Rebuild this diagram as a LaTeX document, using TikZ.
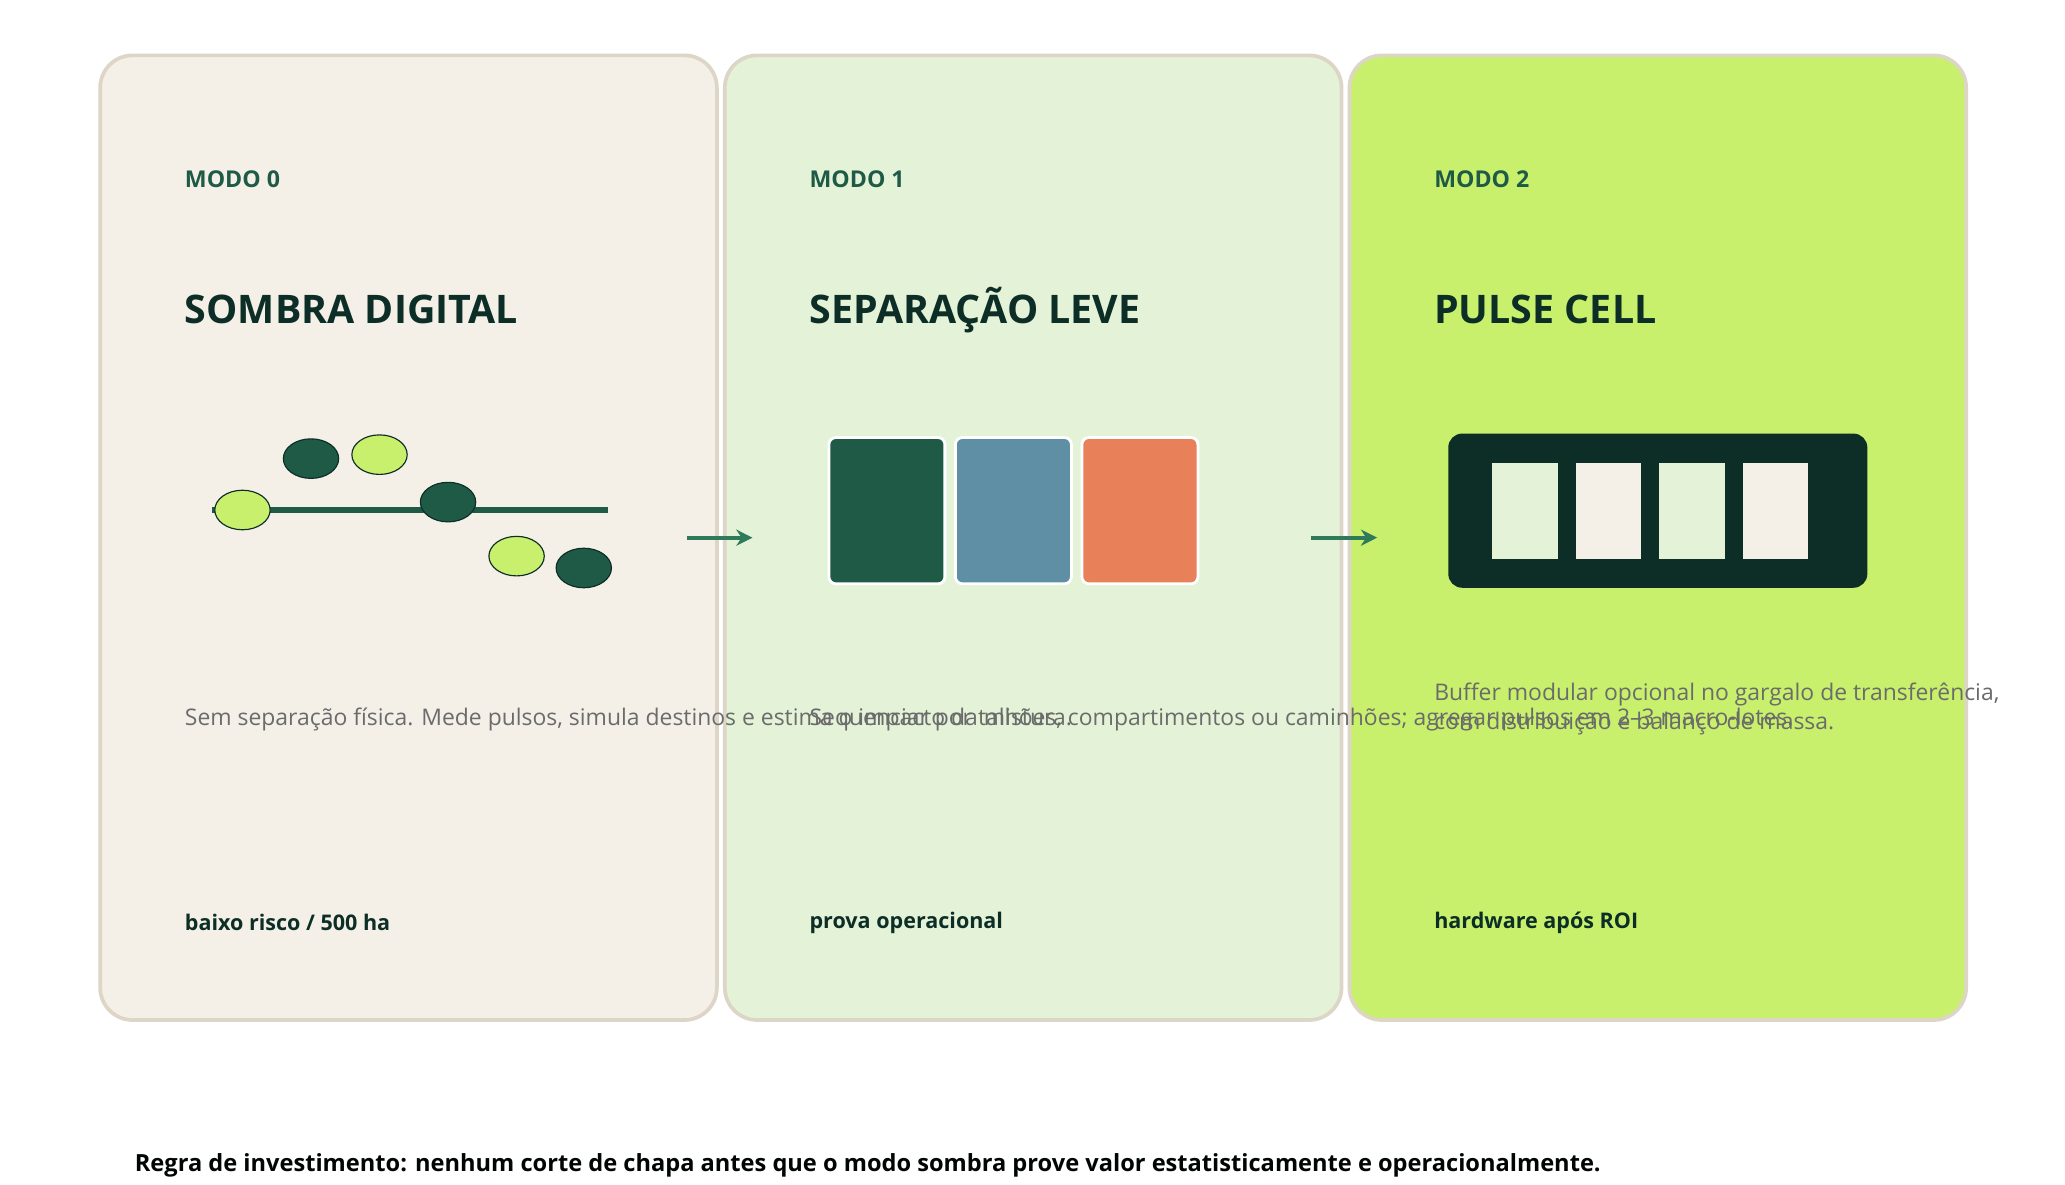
\documentclass[tikz,border=0pt]{standalone}
\usepackage{fontspec}
\setmainfont{Open Sans}
\usetikzlibrary{arrows.meta}
\definecolor{cardA}{HTML}{F4F0E8}
\definecolor{cardB}{HTML}{E4F3D8}
\definecolor{cardC}{HTML}{C8F06C}
\definecolor{edge}{HTML}{DDD5C5}
\definecolor{deep}{HTML}{1E5A46}
\definecolor{ink}{HTML}{0C2E26}
\definecolor{steel}{HTML}{5F8FA4}
\definecolor{coral}{HTML}{E8805A}
\definecolor{flow}{HTML}{2E7A5A}
\tikzset{
  card/.style={draw=edge,line width=1.6pt,rounded corners=14pt},
  mode/.style={anchor=west,inner sep=0pt,text=deep,font=\fontsize{10}{12}\selectfont\bfseries},
  title/.style={anchor=west,inner sep=0pt,text=ink,font=\fontsize{17}{20}\selectfont\bfseries},
  body/.style={anchor=west,inner sep=0pt,text=black!58,font=\fontsize{9.9}{12.4}\selectfont,align=left},
  foot/.style={anchor=west,inner sep=0pt,text=ink,font=\fontsize{9.3}{12}\selectfont\bfseries},
  pulse/.style={draw=ink,line width=0.5pt},
  flowarrow/.style={-{Stealth[length=7pt,width=7pt]},draw=flow,line width=1.8pt},
}
\begin{document}
\begin{tikzpicture}[x=0.02cm,y=-0.02cm]
    \useasboundingbox (0,0) rectangle (1567,898.5);

    % cards
    \draw[card,fill=cardA] (76,42) rectangle (544,774);
    \draw[card,fill=cardB] (550,42) rectangle (1018,774);
    \draw[card,fill=cardC] (1024,42) rectangle (1492,774);

    % modo 0
    \node[mode] (m0) at (140,136) {MODO 0};
    \node[title] (t0) at (140,235) {SOMBRA DIGITAL};
    \coordinate (l0) at (161,387);
    \coordinate (l1) at (461,387);
    \draw[deep,line width=2.4pt] (l0) -- (l1);
    \draw[pulse,fill=cardC] (184,387) ellipse (21 and 15);
    \draw[pulse,fill=deep] (236,348) ellipse (21 and 15);
    \draw[pulse,fill=cardC] (288,345) ellipse (21 and 15);
    \draw[pulse,fill=deep] (340,381) ellipse (21 and 15);
    \draw[pulse,fill=cardC] (392,422) ellipse (21 and 15);
    \draw[pulse,fill=deep] (443,431) ellipse (21 and 15);
    \node[body] (b0) at (140,546) {Sem separação física. Mede pulsos, simula destinos e estima o impacto da mistura.};
    \node[foot] (f0) at (140,700) {baixo risco / 500 ha};

    % modo 1
    \node[mode] (m1) at (614,136) {MODO 1};
    \node[title] (t1) at (614,235) {SEPARAÇÃO LEVE};
    \draw[draw=white,line width=1.2pt,rounded corners=3pt,fill=deep] (629,332) rectangle (717,443);
    \draw[draw=white,line width=1.2pt,rounded corners=3pt,fill=steel] (725,332) rectangle (813,443);
    \draw[draw=white,line width=1.2pt,rounded corners=3pt,fill=coral] (821,332) rectangle (909,443);
    \node[body] (b1) at (614,546) {Sequenciar por talhões, compartimentos ou caminhões; agregar pulsos em 2–3 macro-lotes.};
    \node[foot] (f1) at (614,700) {prova operacional};

    % modo 2
    \node[mode] (m2) at (1088,136) {MODO 2};
    \node[title] (t2) at (1088,235) {PULSE CELL};
    \fill[ink,rounded corners=6pt] (1099,329) rectangle (1417,446);
    \fill[cardB] (1132,351) rectangle (1182,424);
    \fill[cardA] (1196,351) rectangle (1245,424);
    \fill[cardB] (1259,351) rectangle (1309,424);
    \fill[cardA] (1323,351) rectangle (1372,424);
    \node[body] (b2) at (1088,538) {Buffer modular opcional no gargalo de transferência,\\com distribuição e balanço de massa.};
    \node[foot] (f2) at (1088,700) {hardware após ROI};

    % arrows
    \coordinate (a0) at (521,408);
    \coordinate (a1) at (571,408);
    \coordinate (a2) at (995,408);
    \coordinate (a3) at (1045,408);
    \draw[flowarrow] (a0) -- (a1);
    \draw[flowarrow] (a2) -- (a3);

    \node[foot,text=black!90!ink,font=\fontsize{10.2}{12}\selectfont\bfseries] (rule) at (102,884) {Regra de investimento: nenhum corte de chapa antes que o modo sombra prove valor estatisticamente e operacionalmente.};

\end{tikzpicture}
\end{document}
